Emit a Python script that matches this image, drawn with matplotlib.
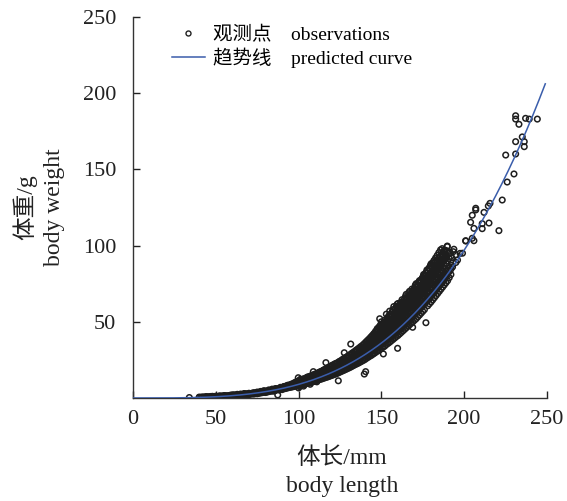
import matplotlib
matplotlib.use('Agg')
import matplotlib.pyplot as plt
from matplotlib.lines import Line2D
import numpy as np

plt.rcParams['font.family'] = ['Liberation Serif', 'Noto Sans CJK SC']
plt.rcParams['axes.unicode_minus'] = False

# 观测数据 (体长 mm, 体重 g)，按体长分组
small_fish = [
    (34, 0.3), (40, 0.3), (40, 0.6), (41, 0.5), (42, 0.4), (42, 0.7), (43, 0.6), (44, 0.5), (44, 0.9),
    (45, 0.6), (45, 0.8), (46, 0.7), (46, 0.5), (47, 0.8), (47, 1.0), (48, 0.7), (48, 1.1), (49, 0.9), (49, 0.6),
    (50, 0.8), (50, 1.2), (51, 1.0), (51, 0.7), (52, 1.1), (52, 1.3), (53, 0.9), (53, 1.4), (54, 1.2), (54, 1.0),
    (55, 1.3), (55, 0.9), (55, 1.6), (56, 1.2), (56, 1.5), (57, 1.4), (57, 1.1), (58, 1.6), (58, 1.3), (59, 1.5), (59, 1.9),
    (60, 1.7), (60, 1.3), (60, 2.0), (61, 1.6), (61, 2.1), (62, 1.9), (62, 1.5), (63, 2.0), (63, 1.7), (63, 2.4),
    (64, 2.2), (64, 1.8), (65, 2.0), (65, 2.6), (66, 2.3), (66, 1.9), (67, 2.5), (67, 2.1), (67, 2.9), (68, 2.4),
    (68, 2.8), (69, 2.7), (69, 2.2),
    (70, 2.6), (70, 3.1), (70, 2.3), (71, 2.9), (71, 2.5), (72, 3.2), (72, 2.7), (73, 3.0), (73, 3.5), (73, 2.6),
    (74, 3.3), (74, 2.9), (75, 3.4), (75, 3.9), (75, 2.8), (76, 3.6), (76, 3.1), (77, 3.8), (77, 3.3), (77, 4.3),
    (78, 4.0), (78, 3.5), (79, 4.2), (79, 3.7), (79, 4.8),
    (80, 4.1), (80, 4.6), (80, 3.6), (81, 4.5), (81, 3.9), (82, 4.7), (82, 4.2), (82, 5.3), (83, 4.9), (83, 4.4),
    (84, 5.1), (84, 4.6), (84, 5.8), (85, 5.0), (85, 5.6), (85, 4.5), (86, 5.5), (86, 4.9), (86, 6.2), (87, 5.6),
    (87.4, 2.0), (87, 6.1), (88, 6.0), (88, 5.3), (89, 6.3), (89, 5.6), (89, 7.0),
    (90, 6.2), (90, 6.8), (90, 5.5), (91, 6.7), (91, 6.0), (91, 7.4), (92, 6.9), (92, 6.2), (93, 7.2), (93, 6.5),
    (93, 8.0), (94, 7.4), (94, 6.8), (94, 8.3), (95, 7.6), (95, 7.0), (95, 8.6), (96, 7.9), (96, 7.2), (97, 8.2),
    (97, 7.5), (97, 9.3), (98, 8.5), (98, 7.7), (98, 9.8), (99, 8.8), (99, 8.0), (99, 10.2),
]

medium_fish = [
    (100, 9.0), (100, 8.2), (100, 10.5), (99.8, 13.3), (100, 6.6), (101, 9.3), (101, 8.5), (101, 11.0), (101, 12.2),
    (102, 9.6), (102, 8.6), (102, 11.2), (103, 10.0), (103, 9.0), (103, 12.0), (103, 7.8), (104, 10.3), (104, 9.2),
    (104, 11.8), (105, 10.6), (105, 9.5), (105, 12.4), (105, 13.5), (106, 11.0), (106, 9.8), (106, 12.6),
    (107, 11.3), (107, 10.0), (107, 13.2), (107, 9.0), (108, 11.7), (108, 10.4), (108, 13.5),
    (109, 12.0), (109, 10.8), (109, 14.0), (108.9, 17.3), (110, 12.4), (110, 11.0), (110, 14.2),
    (111, 12.7), (111, 11.5), (111, 14.8), (111, 10.6), (112, 13.1), (112, 11.8), (112, 15.2),
    (113, 13.6), (113, 12.2), (113, 15.8), (113, 17.0), (114, 14.0), (114, 12.5), (114, 16.0),
    (115, 14.5), (115, 12.9), (115, 16.6), (115, 18.2), (116, 14.9), (116, 13.3), (116, 17.0), (116.5, 23.2),
    (117, 15.3), (117, 13.6), (117, 17.8), (117, 19.5), (118, 15.8), (118, 14.0), (118, 18.2),
    (119, 16.2), (119, 14.4), (119, 18.8), (119, 20.5), (120, 16.7), (120, 14.8), (120, 19.2), (120, 21.0),
    (121, 17.2), (121, 15.2), (121, 19.6), (122, 17.6), (122, 15.6), (122, 20.2), (122, 22.4),
    (123, 18.1), (123, 16.0), (123, 20.8), (124, 18.7), (124, 16.5), (124, 21.3), (124, 11.3),
    (125, 19.3), (125, 17.0), (125, 21.9), (125, 24.0), (126, 19.8), (126, 17.5), (126, 22.5),
    (127, 20.4), (127, 18.0), (127, 23.1), (127.6, 29.7), (127, 25.0), (128, 20.9), (128, 18.5), (128, 23.7),
    (129, 21.5), (129, 19.0), (129, 24.3), (129, 26.5), (130, 22.0), (130, 19.5), (130, 25.0), (130, 27.5),
    (131, 22.6), (131, 20.0), (131, 25.6), (131.5, 35.4), (132, 23.2), (132, 20.6), (132, 26.2), (132, 28.5),
    (133, 23.8), (133, 21.2), (133, 26.8), (134, 24.5), (134, 21.8), (134, 27.6), (134, 30.0),
    (135, 25.1), (135, 22.3), (135, 28.2), (135, 31.0), (136, 25.7), (136, 22.8), (136, 29.0),
    (137, 26.4), (137, 23.4), (137, 29.8), (137, 32.0), (137.7, 31.5), (138, 27.1), (138, 24.0), (138, 30.5),
    (138, 33.2), (139, 27.7), (139, 24.6), (139, 31.2), (139.7, 15.7), (140, 28.4), (140, 25.2), (140, 32.0),
    (140.5, 17.3), (141, 29.2), (141, 26.0), (141, 32.8), (141, 35.0), (142, 29.9), (142, 26.7), (142, 33.6),
    (142, 36.0), (143, 30.7), (143, 27.4), (143, 34.5), (144, 31.4), (144, 28.0), (144, 35.4), (144, 38.0),
    (145, 32.2), (145, 28.8), (145, 36.3), (145, 39.5), (146, 33.0), (146, 29.5), (146, 37.2), (146, 41.0),
    (147, 33.8), (147, 30.3), (147, 38.2), (147, 43.0), (148, 34.6), (148, 31.0), (148, 39.2), (148, 45.0),
    (149, 35.4), (149, 31.8), (149, 40.2), (149, 47.0), (149, 52.0),
]

large_fish = [
    (150, 36.1), (150, 32.5), (150, 41.2), (150, 45.5), (150, 50.0), (151, 37.0), (151, 33.3), (151, 42.2),
    (151.2, 28.9), (151, 48.0), (152, 37.9), (152, 34.0), (152, 43.2), (152, 51.0),
    (153, 38.7), (153, 35.0), (153, 44.2), (153, 49.0), (153, 55.0), (154, 39.6), (154, 35.8), (154, 45.2),
    (154, 52.0), (155, 40.4), (155, 36.6), (155, 46.2), (155, 50.5), (155, 57.0), (156, 41.3), (156, 37.5),
    (156, 47.2), (156, 54.0), (157, 42.2), (157, 38.4), (157, 48.3), (157, 52.5), (157, 58.0),
    (158, 43.1), (158, 39.3), (158, 49.4), (158, 56.0), (159, 44.0), (159, 40.2), (159, 50.5), (159, 54.5),
    (159, 60.0), (160, 45.0), (160, 41.0), (160, 51.5), (160, 57.0), (159.8, 32.6), (160, 62.0),
    (161, 45.9), (161, 42.0), (161, 52.6), (161, 59.0), (162, 46.9), (162, 43.0), (162, 53.7), (162, 57.5),
    (162, 63.0), (163, 47.9), (163, 44.0), (163, 54.8), (163, 61.0), (164, 48.9), (164, 45.0), (164, 56.0),
    (164, 60.0), (164, 65.0), (165, 50.0), (165, 46.0), (165, 57.2), (165, 63.0), (165, 68.0),
    (166, 51.0), (166, 47.0), (166, 58.4), (166, 62.5), (167, 52.1), (167, 48.0), (167, 59.6), (167, 66.0),
    (167, 70.0), (168, 53.2), (168, 49.0), (168, 60.8), (168, 64.5), (169, 54.3), (169, 50.0), (169, 62.0),
    (168.9, 46.4), (169, 68.0), (170, 55.5), (170, 51.0), (170, 63.2), (170, 67.0), (170, 72.0),
    (171, 56.6), (171, 52.0), (171, 64.4), (171, 70.0), (171, 75.0), (172, 57.8), (172, 53.2), (172, 65.6),
    (172, 69.0), (173, 58.9), (173, 54.4), (173, 66.8), (173, 72.0), (173, 77.0), (174, 60.1), (174, 55.6),
    (174, 68.0), (174, 74.0), (175, 61.3), (175, 56.8), (175, 69.2), (175, 73.0), (175, 79.0),
    (176, 62.5), (176, 58.0), (176, 70.5), (176, 76.0), (176.9, 49.4), (177, 63.7), (177, 71.8), (177, 78.0),
    (177, 82.0), (178, 65.0), (178, 60.5), (178, 73.0), (178, 80.0), (179, 66.2), (179, 61.8), (179, 74.3),
    (179, 79.0), (179, 85.0), (180, 67.5), (180, 63.0), (180, 75.6), (180, 82.0), (180, 88.0),
    (181, 68.8), (181, 64.4), (181, 77.0), (181, 84.0), (182, 70.1), (182, 65.8), (182, 78.4), (182, 83.0),
    (182, 87.0), (183, 71.4), (183, 67.2), (183, 79.8), (183, 86.0), (184, 72.8), (184, 68.6), (184, 81.2),
    (184, 88.0), (185, 74.2), (185, 70.0), (185, 82.6), (185, 87.0), (185, 90.0), (186, 75.6), (186, 71.4),
    (186, 84.0), (186, 89.0), (187, 77.0), (187, 72.8), (187, 85.5), (187, 91.0), (188, 78.5), (188, 74.2),
    (188, 87.0), (188, 92.0), (189, 79.9), (189, 75.6), (189, 88.5), (189.8, 99.7), (189, 94.0),
    (190, 81.3), (190, 77.0), (190, 90.0), (190.8, 94.9), (189.8, 99.3), (191, 83.0), (191, 79.0), (191, 91.5),
    (192, 84.5), (192, 81.0), (192, 93.0), (193.4, 96.0), (193, 86.0), (193.8, 97.6), (195, 88.9), (195, 94.0),
    (196, 90.5), (197.5, 94.9), (199, 95.0), (200.9, 103.2),
]

# 半毫米体长组的补充测量
half_mm_fish = [
    (90.5, 6.5), (90.5, 7.1), (91.5, 6.4), (91.5, 7.6), (92.5, 7.0), (92.5, 7.8), (93.5, 7.3), (93.5, 8.4),
    (94.5, 7.2), (94.5, 8.1), (95.5, 7.8), (95.5, 9.0), (96.5, 8.0), (96.5, 9.4), (97.5, 8.6), (97.5, 10.0),
    (98.5, 8.9), (98.5, 10.6), (99.5, 9.2), (99.5, 11.0), (100.5, 9.6), (100.5, 11.4), (100.5, 7.5),
    (101.5, 9.9), (101.5, 11.9), (102.5, 10.3), (102.5, 12.4), (103.5, 10.6), (103.5, 12.7), (103.5, 8.8),
    (104.5, 11.0), (104.5, 13.1), (105.5, 11.4), (105.5, 13.8), (106.5, 11.8), (106.5, 14.1), (106.5, 10.2),
    (107.5, 12.2), (107.5, 14.6), (108.5, 12.6), (108.5, 15.0), (109.5, 13.0), (109.5, 15.5), (109.5, 11.5),
    (110.5, 13.4), (110.5, 15.9), (111.5, 13.9), (111.5, 16.4), (112.5, 14.3), (112.5, 16.9), (112.5, 12.5),
    (113.5, 14.8), (113.5, 17.4), (114.5, 15.2), (114.5, 17.9), (115.5, 15.7), (115.5, 18.6), (115.5, 13.8),
    (116.5, 16.2), (116.5, 19.0), (117.5, 16.6), (117.5, 19.7), (118.5, 17.1), (118.5, 20.2), (118.5, 15.0),
    (119.5, 17.6), (119.5, 20.9), (120.5, 18.1), (120.5, 21.6), (121.5, 18.6), (121.5, 22.0), (121.5, 16.4),
    (122.5, 19.1), (122.5, 22.6), (123.5, 19.7), (123.5, 23.2), (124.5, 20.2), (124.5, 23.9), (124.5, 17.6),
    (125.5, 20.8), (125.5, 24.5), (126.5, 21.4), (126.5, 25.3), (127.5, 22.0), (127.5, 26.0), (127.5, 19.2),
    (128.5, 22.6), (128.5, 26.6), (129.5, 23.2), (129.5, 27.3), (130.5, 23.9), (130.5, 28.0), (130.5, 21.0),
    (131.5, 24.5), (131.5, 28.8), (132.5, 25.2), (132.5, 29.6), (133.5, 25.8), (133.5, 30.3), (133.5, 22.8),
    (134.5, 26.5), (134.5, 31.2), (135.5, 27.2), (135.5, 32.0), (136.5, 28.0), (136.5, 32.8), (136.5, 24.6),
    (137.5, 28.7), (137.5, 33.7), (138.5, 29.4), (138.5, 34.5), (139.5, 30.2), (139.5, 35.5), (139.5, 26.6),
    (140.5, 31.0), (140.5, 36.5), (141.5, 31.8), (141.5, 37.6), (142.5, 32.6), (142.5, 38.6), (142.5, 28.8),
    (143.5, 33.4), (143.5, 39.8), (144.5, 34.3), (144.5, 41.0), (145.5, 35.2), (145.5, 42.3), (145.5, 31.0),
    (146.5, 36.1), (146.5, 43.8), (147.5, 37.0), (147.5, 45.5), (148.5, 37.9), (148.5, 46.5), (148.5, 33.5),
    (149.5, 38.8), (149.5, 48.0), (149.5, 43.5), (150.5, 39.7), (150.5, 47.5), (150.5, 44.0),
    (151.5, 40.6), (151.5, 49.5), (151.5, 45.5), (152.5, 41.6), (152.5, 50.0), (152.5, 46.5),
    (153.5, 42.5), (153.5, 52.5), (153.5, 47.0), (154.5, 43.5), (154.5, 54.0), (154.5, 49.0),
    (155.5, 44.5), (155.5, 55.0), (155.5, 51.5), (156.5, 45.5), (156.5, 56.5), (156.5, 50.5),
    (157.5, 46.5), (157.5, 55.5), (157.5, 60.0), (158.5, 47.5), (158.5, 58.5), (158.5, 53.0),
    (159.5, 48.5), (159.5, 57.5), (159.5, 61.5), (160.5, 49.5), (160.5, 60.5), (160.5, 55.0),
    (161.5, 50.5), (161.5, 62.0), (161.5, 56.0), (162.5, 51.5), (162.5, 60.0), (162.5, 64.5),
    (163.5, 52.5), (163.5, 63.0), (163.5, 58.5), (164.5, 53.5), (164.5, 66.5), (164.5, 59.5),
    (165.5, 54.5), (165.5, 61.0), (165.5, 66.0), (166.5, 55.5), (166.5, 64.0), (166.5, 69.0),
    (167.5, 56.5), (167.5, 63.0), (167.5, 68.0), (168.5, 57.5), (168.5, 66.5), (168.5, 71.5),
    (169.5, 58.5), (169.5, 65.0), (169.5, 70.5), (170.5, 59.5), (170.5, 69.0), (170.5, 74.0),
    (171.5, 60.5), (171.5, 67.5), (171.5, 73.0), (172.5, 61.5), (172.5, 71.0), (172.5, 76.0),
    (173.5, 62.5), (173.5, 70.0), (173.5, 75.5), (174.5, 63.5), (174.5, 72.0), (174.5, 78.0),
    (175.5, 65.0), (175.5, 75.5), (175.5, 81.0), (176.5, 66.0), (176.5, 74.0), (176.5, 80.0),
    (177.5, 67.0), (177.5, 76.5), (177.5, 84.0), (178.5, 68.5), (178.5, 77.5), (178.5, 83.0),
    (179.5, 69.5), (179.5, 80.5), (179.5, 86.5), (180.5, 71.0), (180.5, 79.0), (180.5, 85.5),
    (181.5, 72.0), (181.5, 81.0), (181.5, 87.0), (182.5, 73.5), (182.5, 84.5), (182.5, 89.5),
    (183.5, 74.5), (183.5, 83.5), (183.5, 90.0), (184.5, 76.0), (184.5, 85.0), (184.5, 91.5),
    (185.5, 77.0), (185.5, 86.5), (185.5, 93.0), (186.5, 78.5), (186.5, 88.0), (186.5, 94.5),
    (187.5, 80.0), (187.5, 90.0), (187.5, 96.0), (188.5, 81.5), (188.5, 91.0), (188.5, 97.0),
    (189.5, 83.0), (189.5, 92.5), (189.5, 96.5), (191.5, 85.5), (191.5, 95.5), (192.5, 87.0), (192.5, 92.0),
]

# 四分之一毫米体长组的补充测量 (140-189 mm)
quarter_mm_fish = [
    (140.25, 30.8), (140.25, 34.2), (140.75, 28.1), (140.75, 32.6), (140.75, 36.6),
    (141.25, 31.6), (141.25, 35.1), (141.75, 28.9), (141.75, 33.6), (141.75, 37.7),
    (142.25, 32.4), (142.25, 36.0), (142.75, 29.8), (142.75, 34.6), (142.75, 38.8),
    (143.25, 33.2), (143.25, 36.9), (143.75, 30.6), (143.75, 35.5), (143.75, 39.9),
    (144.25, 34.0), (144.25, 37.8), (144.75, 31.4), (144.75, 36.5), (144.75, 41.0),
    (145.25, 34.9), (145.25, 38.8), (145.75, 32.2), (145.75, 37.5), (145.75, 42.1),
    (146.25, 35.8), (146.25, 39.8), (146.75, 33.0), (146.75, 38.5), (146.75, 43.2),
    (147.25, 36.7), (147.25, 40.8), (147.75, 33.9), (147.75, 39.5), (147.75, 44.4),
    (148.25, 37.6), (148.25, 41.8), (148.75, 34.7), (148.75, 40.5), (148.75, 45.5),
    (149.25, 38.5), (149.25, 42.8), (149.75, 35.5), (149.75, 41.3), (149.75, 46.4),
    (150.25, 39.3), (150.25, 43.7), (150.75, 36.3), (150.75, 42.2), (150.75, 47.4),
    (151.25, 40.2), (151.25, 44.6), (151.75, 37.1), (151.75, 43.2), (151.75, 48.5),
    (152.25, 41.1), (152.25, 45.6), (152.75, 37.9), (152.75, 44.1), (152.75, 49.6),
    (153.25, 42.0), (153.25, 46.6), (153.75, 38.8), (153.75, 45.1), (153.75, 50.7),
    (154.25, 42.9), (154.25, 47.6), (154.75, 39.6), (154.75, 46.1), (154.75, 51.8),
    (155.25, 43.9), (155.25, 48.7), (155.75, 40.5), (155.75, 47.1), (155.75, 52.9),
    (156.25, 44.8), (156.25, 49.7), (156.75, 41.4), (156.75, 48.2), (156.75, 54.1),
    (157.25, 45.8), (157.25, 50.8), (157.75, 42.3), (157.75, 49.2), (157.75, 55.3),
    (158.25, 46.8), (158.25, 51.9), (158.75, 43.2), (158.75, 50.3), (158.75, 56.5),
    (159.25, 47.8), (159.25, 53.0), (159.75, 44.1), (159.75, 51.4), (159.75, 57.7),
    (160.25, 48.9), (160.25, 54.2), (160.75, 45.0), (160.75, 52.5), (160.75, 58.9),
    (161.25, 50.0), (161.25, 55.4), (161.75, 46.0), (161.75, 53.7), (161.75, 60.2),
    (162.25, 51.0), (162.25, 56.6), (162.75, 47.0), (162.75, 54.8), (162.75, 61.5),
    (163.25, 52.1), (163.25, 57.8), (163.75, 48.0), (163.75, 56.0), (163.75, 62.8),
    (164.25, 53.2), (164.25, 59.0), (164.75, 49.0), (164.75, 57.1), (164.75, 64.1),
    (165.25, 54.3), (165.25, 60.3), (165.75, 50.1), (165.75, 58.4), (165.75, 65.5),
    (166.25, 55.5), (166.25, 61.6), (166.75, 51.2), (166.75, 59.6), (166.75, 66.9),
    (167.25, 56.7), (167.25, 62.9), (167.75, 52.3), (167.75, 60.9), (167.75, 68.3),
    (168.25, 57.9), (168.25, 64.3), (168.75, 53.4), (168.75, 62.2), (168.75, 69.8),
    (169.25, 59.1), (169.25, 65.6), (169.75, 54.5), (169.75, 63.5), (169.75, 71.2),
    (170.25, 60.3), (170.25, 67.0), (170.75, 55.6), (170.75, 64.8), (170.75, 72.7),
    (171.25, 61.5), (171.25, 68.3), (171.75, 56.7), (171.75, 66.1), (171.75, 74.2),
    (172.25, 62.7), (172.25, 69.6), (172.75, 57.8), (172.75, 67.4), (172.75, 75.7),
    (173.25, 64.0), (173.25, 71.0), (173.75, 59.0), (173.75, 68.8), (173.75, 77.2),
    (174.25, 65.3), (174.25, 72.5), (174.75, 60.2), (174.75, 70.1), (174.75, 78.8),
    (175.25, 66.6), (175.25, 74.0), (175.75, 61.4), (175.75, 71.6), (175.75, 80.4),
    (176.25, 67.9), (176.25, 75.4), (176.75, 62.6), (176.75, 73.0), (176.75, 82.0),
    (177.25, 69.2), (177.25, 76.9), (177.75, 63.9), (177.75, 74.4), (177.75, 83.6),
    (178.25, 70.5), (178.25, 78.3), (178.75, 65.1), (178.75, 75.8), (178.75, 85.2),
    (179.25, 71.9), (179.25, 79.8), (179.75, 66.4), (179.75, 77.3), (179.75, 86.9),
    (180.25, 73.2), (180.25, 81.3), (180.75, 67.7), (180.75, 78.9), (180.75, 88.5),
    (181.25, 74.6), (181.25, 82.8), (181.75, 69.0), (181.75, 80.4), (181.75, 90.2),
    (182.25, 76.0), (182.25, 84.4), (182.75, 70.3), (182.75, 81.9), (182.75, 91.9),
    (183.25, 77.5), (183.25, 86.0), (183.75, 71.7), (183.75, 83.5), (183.75, 93.6),
    (184.25, 78.9), (184.25, 87.6), (184.75, 73.1), (184.75, 85.0), (184.75, 95.4),
    (185.25, 80.4), (185.25, 89.2), (185.75, 74.5), (185.75, 86.6), (185.75, 97.2),
    (186.25, 81.9), (186.25, 90.9), (186.75, 75.9), (186.75, 88.3), (186.75, 98.0),
    (187.25, 83.4), (187.25, 92.6), (187.75, 77.3), (187.75, 89.9), (187.75, 96.6),
    (188.25, 84.9), (188.25, 94.3), (188.75, 78.8), (188.75, 91.6),
]

big_fish = [
    (201, 103.0), (204.9, 104.8), (205.9, 103.2), (203.9, 115.3), (204.9, 119.9), (205.9, 111.3),
    (207, 124.5), (207, 123.4), (210.9, 114.4), (210.9, 111.1), (212, 121.8), (214.6, 126.0),
    (215.6, 127.7), (215, 114.8), (221, 109.8), (223, 129.9), (226, 141.7), (230.1, 147.0),
    (225.1, 159.4), (231.1, 160.1), (231.1, 168.2), (236.3, 164.9), (236.3, 168.2), (235.1, 171.3),
    (233.1, 179.6), (231.1, 183.0), (231.1, 185.2), (237.1, 183.5), (239.3, 183.0), (244.2, 183.0),
]

# 幂函数 W = a * L^b 拟合参数
coef_a = 97.0 / 200.0 ** 3.44
coef_b = 3.44
curve_max_len = 249

obs = np.array(small_fish + medium_fish + half_mm_fish + quarter_mm_fish + large_fish + big_fish)
body_length = obs[:, 0]
body_weight = obs[:, 1]

fig = plt.figure(figsize=(5.67, 5.01), dpi=100)
ax = fig.add_axes([0.2346, 0.2056, 0.730, 0.7605])

ax.scatter(body_length, body_weight, s=16, facecolors='none', edgecolors='#1e1e1e',
           linewidths=1.1, zorder=2)

L_fit = np.linspace(0, curve_max_len, 400)
W_fit = coef_a * L_fit ** coef_b
ax.plot(L_fit, W_fit, color='#3a5dab', lw=1.1, zorder=3)

ax.set_xlim(0, 250)
ax.set_ylim(0, 250)
ax.set_xticks([0, 50, 100, 150, 200, 250])
ax.set_yticks([50, 100, 150, 200, 250])
ax.tick_params(direction='in', length=5, width=1, labelsize=16, colors='#222222')
ax.tick_params(axis='y', pad=12)
ax.tick_params(axis='x', pad=9)
for side in ['top', 'right']:
    ax.spines[side].set_visible(False)
for side in ['left', 'bottom']:
    ax.spines[side].set_color('#333333')
    ax.spines[side].set_linewidth(1)

ax.set_xlabel('体长/mm\nbody length', fontsize=17, linespacing=1.4, color='#222222')
ax.set_ylabel('体重/g\nbody weight', fontsize=17, linespacing=1.4, color='#222222')
ax.xaxis.set_label_coords(0.505, -0.13)
ax.yaxis.set_label_coords(-0.165, 0.5)

handles = [
    Line2D([], [], ls='none', marker='o', markersize=3.6, markerfacecolor='white',
           markeredgecolor='#222222', markeredgewidth=1.0),
    Line2D([], [], color='#3a5dab', lw=1.1),
]
ax.legend(handles, ['观测点    observations', '趋势线    predicted curve'], loc='upper left',
          bbox_to_anchor=(0.094, 0.977), frameon=False, fontsize=14, handlelength=1.7,
          handletextpad=0.4, labelspacing=0.2, borderpad=0, borderaxespad=0)

plt.savefig('out.png', dpi=100)
